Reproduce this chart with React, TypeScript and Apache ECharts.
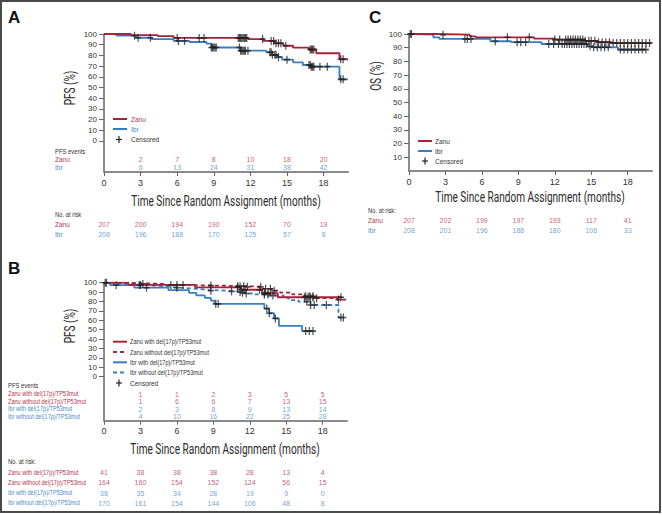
import React, { useEffect, useRef } from 'react';
import * as echarts from 'echarts';

const RED = '#a8223a';
const BLUE = '#3a7ec2';
const RED_T = '#b4354d';
const BLUE_T = '#4b8cc8';
const SMALL = '"Liberation Sans", Arial, sans-serif';

const xTicks = [0, 3, 6, 9, 12, 15, 18];
const eventMonths = [3, 6, 9, 12, 15, 18];
const yTicksPFS = [0, 10, 20, 30, 40, 50, 60, 70, 80, 90, 100];
const yTicksOS = [10, 20, 30, 40, 50, 60, 70, 80, 90, 100];
const xTitle = 'Time Since Random Assignment (months)';

// ---------- Panel A (PFS) ----------
const aZanuKM: [number, number][] = [[0, 100], [2.2, 99], [4.4, 98.1], [5.7, 96.3], [11.8, 95.3], [13.1, 93.5], [14.0, 91.3], [14.7, 89], [15.5, 87.2], [16.8, 85.5], [17.4, 82], [19.3, 76.4], [20, 76.4]];
const aIbrKM: [number, number][] = [[0, 100], [1.0, 98.4], [2.6, 96.5], [3.9, 95.3], [5.7, 93.5], [7.0, 92.5], [8.4, 91], [8.8, 87.4], [11.2, 84.4], [13.3, 82.9], [13.8, 80.5], [14.2, 78.5], [14.6, 76], [15.5, 73.5], [16.3, 71], [17.0, 69.5], [19.3, 57.6], [20, 57.6]];
const aZanuCens = [6.0, 7.8, 8.2, 11.0, 11.1, 11.2, 11.3, 11.4, 11.5, 11.6, 11.7, 13.0, 13.7, 13.9, 14.1, 14.3, 14.5, 14.9, 16.9, 17.0, 17.1, 17.2, 19.4, 19.6];
const aIbrCens = [2.5, 2.8, 3.8, 6.1, 6.6, 8.8, 8.9, 9.0, 9.1, 9.2, 11.1, 11.2, 11.3, 11.4, 11.5, 11.6, 11.8, 13.6, 13.7, 13.8, 14.0, 14.1, 14.3, 15.0, 16.8, 16.9, 17.0, 17.1, 17.2, 17.7, 18.3, 19.4, 19.6];
const aRowLabels = ['Zanu', 'Ibr'];
const aEventsZanu = [2, 7, 8, 10, 18, 20];
const aEventsIbr = [6, 13, 24, 31, 38, 42];
const aRiskZanu = [207, 200, 194, 190, 152, 70, 19];
const aRiskIbr = [208, 196, 188, 170, 125, 57, 8];

// ---------- Panel C (OS) ----------
const cZanuKM: [number, number][] = [[0, 100], [2.0, 99.5], [5.0, 98.3], [5.5, 97.6], [10.3, 96.6], [12.0, 95.9], [14.5, 95], [15.5, 94], [16.6, 93.4], [20, 93.4]];
const cIbrKM: [number, number][] = [[0, 100], [0.3, 99.5], [2.0, 97.6], [2.5, 96.4], [6.7, 94.7], [8.4, 94], [10.9, 92.7], [14.7, 91], [15.2, 90.3], [17.2, 88.6], [19.5, 88.6]];
const cZanuCens = [0.1, 2.8, 8.1, 9.9, 12.0, 12.4, 12.9, 13.1, 13.3, 13.5, 13.7, 13.9, 14.1, 14.3, 14.5, 14.8, 15.0, 15.3, 15.6, 15.9, 16.2, 16.5, 16.8, 17.1, 17.4, 17.7, 18.0, 18.3, 18.6, 18.9, 19.2, 19.5, 19.8];
const cIbrCens = [0.2, 4.6, 4.8, 5.1, 7.1, 8.9, 9.2, 9.6, 11.5, 11.9, 12.3, 12.6, 12.8, 13.0, 13.2, 13.4, 13.6, 13.8, 14.0, 14.2, 14.4, 14.6, 14.9, 15.2, 15.5, 15.8, 16.1, 16.4, 17.4, 17.7, 18.0, 18.3, 18.6, 18.9, 19.2, 19.5];
const cRowLabels = ['Zanu', 'Ibr'];
const cRiskZanu = [207, 202, 199, 197, 193, 117, 41];
const cRiskIbr = [208, 201, 196, 188, 180, 106, 33];

// ---------- Panel B (PFS by del(17p)/TP53mut) ----------
const bZanuWithKM: [number, number][] = [[0, 100], [2.0, 97.6], [7.5, 95.1], [11.3, 92.5], [13.0, 88.8], [14.3, 84.5], [19.6, 84.5]];
const bZanuWithoutKM: [number, number][] = [[0, 100], [1.5, 99.4], [3.0, 98.7], [5.0, 97.5], [6.5, 96.9], [9.5, 96.3], [11.8, 95.6], [13.0, 93.5], [13.8, 91.5], [14.5, 89.5], [15.5, 87.5], [16.5, 85.5], [17.5, 83.5], [19.2, 82], [20, 82]];
const bIbrWithKM: [number, number][] = [[0, 100], [0.5, 97.4], [2.5, 94.7], [5.3, 92.0], [7.0, 89.2], [7.6, 86.5], [8.3, 83.8], [8.8, 81], [9.1, 77.5], [13.2, 72.5], [13.6, 67.5], [14.0, 62], [14.4, 54], [16.3, 48.5], [17.2, 48.5]];
const bIbrWithoutKM: [number, number][] = [[0, 100], [0.8, 98.8], [2.0, 98.2], [2.8, 97.6], [3.5, 97], [4.3, 96.4], [4.8, 95.8], [5.3, 95.2], [5.8, 94.6], [6.5, 94], [7.0, 93.4], [7.6, 92.8], [8.2, 92.2], [8.8, 91.5], [10.0, 90.8], [10.8, 90.1], [11.3, 89.4], [11.7, 88.5], [12.3, 87.5], [13.6, 86.3], [14.8, 84], [15.2, 81.5], [16.0, 79.8], [17.0, 76.3], [19.3, 63], [19.6, 63]];
const bZanuWithCens = [2.9, 6.5, 11.0, 11.3, 11.6, 12.8, 13.2, 13.5, 16.5, 16.8, 17.0, 17.2, 19.5];
const bZanuWithoutCens = [0.1, 3.2, 5.5, 6.0, 8.8, 11.0, 11.2, 11.5, 11.8, 12.9, 13.3, 13.7, 14.0, 16.6, 16.9, 17.2, 17.5, 19.3];
const bIbrWithCens = [1.0, 3.5, 9.2, 9.4, 13.4, 13.6, 14.1, 16.6, 16.9, 17.2];
const bIbrWithoutCens = [0.2, 3.0, 6.0, 8.8, 10.5, 11.2, 11.4, 11.7, 13.2, 13.5, 13.9, 16.7, 17.0, 17.3, 18.3, 19.5, 19.7];
const bRowLabels = ['Zanu with del(17p)/TP53mut', 'Zanu without del(17p)/TP53mut', 'Ibr with del(17p)/TP53mut', 'Ibr without del(17p)/TP53mut'];
const bEvents = [
  [1, 1, 2, 3, 5, 5],
  [1, 6, 6, 7, 13, 15],
  [2, 3, 8, 9, 13, 14],
  [4, 10, 16, 22, 25, 28],
];
const bRisk = [
  [41, 38, 38, 38, 28, 13, 4],
  [164, 160, 154, 152, 124, 56, 15],
  [38, 35, 34, 28, 19, 9, 0],
  [170, 161, 154, 144, 106, 48, 8],
];

function stepAt(km: [number, number][], t: number) {
  let v = km[0][1];
  for (const [x, y] of km) {
    if (x <= t) v = y;
    else break;
  }
  return v;
}
const censPts = (km: [number, number][], times: number[]) => times.map((t) => [t, stepAt(km, t)]);

const PLUS = 'path://M4,0H6V4H10V6H6V10H4V6H0V4H4Z';

function kmLine(data: [number, number][], color: string, dashed: boolean, gi: number) {
  return {
    type: 'line', xAxisIndex: gi, yAxisIndex: gi, data, step: 'end', symbol: 'none',
    lineStyle: { color, width: 1.8, type: dashed ? [4, 3] : 'solid' }, z: 3, silent: true,
  };
}
function censSeries(pts: number[][], gi: number) {
  return {
    type: 'scatter', xAxisIndex: gi, yAxisIndex: gi, data: pts, symbol: PLUS, symbolSize: [6, 8],
    itemStyle: { color: '#222' }, z: 5, silent: true,
  };
}
function tableSeries(gi: number, rows: number[][], months: number[], colors: string[]) {
  return rows.map((row, r) => ({
    type: 'scatter', xAxisIndex: gi, yAxisIndex: gi, symbolSize: 0.1,
    itemStyle: { color: 'transparent' }, silent: true,
    data: row.map((v, i) => [months[i], r, v]),
    label: {
      show: true, position: 'inside', formatter: (p: any) => String(p.value[2]),
      fontSize: 7, color: colors[r], fontFamily: SMALL,
    },
  }));
}

function plotX(gi: number) {
  return {
    type: 'value', gridIndex: gi, min: 0, max: 20,
    axisLine: { show: true, onZero: false, lineStyle: { color: '#8a8a8a', width: 2 } },
    axisTick: { show: true, customValues: xTicks, length: 4, lineStyle: { color: '#666', width: 1 } },
    axisLabel: { customValues: xTicks, fontSize: 9, color: '#333', margin: 6, fontFamily: SMALL },
    splitLine: { show: false },
  };
}
function plotY(gi: number, min: number, ticks: number[]) {
  return {
    type: 'value', gridIndex: gi, min, max: 100,
    axisLine: { show: true, onZero: false, lineStyle: { color: '#666', width: 1.5 } },
    axisTick: { show: true, customValues: ticks, length: 5, lineStyle: { color: '#666', width: 1 } },
    axisLabel: { customValues: ticks, fontSize: 8, color: '#333', margin: 7, fontFamily: SMALL },
    splitLine: { show: false },
  };
}
function tblX(gi: number) {
  return { type: 'value', gridIndex: gi, min: 0, max: 20, show: false };
}
function tblY(gi: number, rows: number) {
  return { type: 'value', gridIndex: gi, min: 0, max: rows - 1, inverse: true, show: false };
}

function txt(text: string, x: number, y: number, fill: string, size = 7, sx = 1) {
  return {
    type: 'text', x, y, scaleX: sx, silent: true,
    style: { text, fill, font: `${size}px ${SMALL}`, align: 'left', verticalAlign: 'middle' },
  };
}
function bigTitle(text: string, x: number, y: number, rotate = false) {
  return {
    type: 'text', x, y, scaleX: 0.72, rotation: rotate ? Math.PI / 2 : 0, silent: true,
    style: { text, fill: '#2a2a2a', font: 'normal 400 14px Roboto, sans-serif', align: 'center', verticalAlign: 'middle' },
  };
}
function panelLetter(text: string, x: number, y: number) {
  return {
    type: 'text', x, y, silent: true,
    style: { text, fill: '#111', font: `bold 17px ${SMALL}`, align: 'left', verticalAlign: 'middle' },
  };
}
function legLine(x: number, y: number, color: string, dashed: boolean) {
  return {
    type: 'line', silent: true, shape: { x1: x, y1: y, x2: x + 14, y2: y },
    style: { stroke: color, lineWidth: 2, lineDash: dashed ? [4, 3] : null },
  };
}
function plusMark(x: number, y: number) {
  return [
    { type: 'line', silent: true, shape: { x1: x, y1: y - 3.5, x2: x, y2: y + 3.5 }, style: { stroke: '#222', lineWidth: 1.2 } },
    { type: 'line', silent: true, shape: { x1: x - 3, y1: y, x2: x + 3, y2: y }, style: { stroke: '#222', lineWidth: 1.2 } },
  ];
}

export default function App() {
  const ref = useRef<HTMLDivElement>(null);
  useEffect(() => {
    if (!ref.current) return;
    const chart = echarts.init(ref.current, null, { renderer: 'svg' });
    const grid = [
      { left: 104, top: 34, width: 244, height: 138 }, // 0 A plot
      { left: 104, top: 159, width: 244, height: 8.5 }, // 1 A events
      { left: 104, top: 224, width: 244, height: 10 }, // 2 A risk
      { left: 409, top: 34, width: 243, height: 137 }, // 3 C plot
      { left: 409, top: 220, width: 243, height: 10.5 }, // 4 C risk
      { left: 104, top: 282.7, width: 243, height: 138 }, // 5 B plot
      { left: 104, top: 394, width: 243, height: 22.5 }, // 6 B events
      { left: 104, top: 472.7, width: 243, height: 30.6 }, // 7 B risk
    ];
    const xAxis = [plotX(0), tblX(1), tblX(2), plotX(3), tblX(4), plotX(5), tblX(6), tblX(7)];
    const yAxis = [
      plotY(0, -29, yTicksPFS), tblY(1, 2), tblY(2, 2),
      plotY(3, 0, yTicksOS), tblY(4, 2),
      plotY(5, -46.8, yTicksPFS), tblY(6, 4), tblY(7, 4),
    ];
    const rb = [RED_T, BLUE_T];
    const rrbb = [RED_T, RED_T, BLUE_T, BLUE_T];
    const series: any[] = [
      kmLine(aIbrKM, BLUE, false, 0),
      kmLine(aZanuKM, RED, false, 0),
      censSeries([...censPts(aZanuKM, aZanuCens), ...censPts(aIbrKM, aIbrCens)], 0),
      ...tableSeries(1, [aEventsZanu, aEventsIbr], eventMonths, rb),
      ...tableSeries(2, [aRiskZanu, aRiskIbr], xTicks, rb),
      kmLine(cIbrKM, BLUE, false, 3),
      kmLine(cZanuKM, RED, false, 3),
      censSeries([...censPts(cZanuKM, cZanuCens), ...censPts(cIbrKM, cIbrCens)], 3),
      ...tableSeries(4, [cRiskZanu, cRiskIbr], xTicks, rb),
      kmLine(bIbrWithKM, BLUE, false, 5),
      kmLine(bIbrWithoutKM, BLUE, true, 5),
      kmLine(bZanuWithKM, RED, false, 5),
      kmLine(bZanuWithoutKM, RED, true, 5),
      censSeries([
        ...censPts(bZanuWithKM, bZanuWithCens), ...censPts(bZanuWithoutKM, bZanuWithoutCens),
        ...censPts(bIbrWithKM, bIbrWithCens), ...censPts(bIbrWithoutKM, bIbrWithoutCens),
      ], 5),
      ...tableSeries(6, bEvents, eventMonths, rrbb),
      ...tableSeries(7, bRisk, xTicks, rrbb),
    ];
    const graphic: any[] = [
      { type: 'rect', silent: true, shape: { x: 1, y: 1, width: 659, height: 511 }, style: { fill: 'none', stroke: '#4a4a4a', lineWidth: 2 } },
      panelLetter('A', 8, 17), panelLetter('C', 369, 17), panelLetter('B', 8, 268),
      bigTitle(xTitle, 226, 201), bigTitle(xTitle, 530, 197), bigTitle(xTitle, 225, 449),
      bigTitle('PFS (%)', 70, 88, true), bigTitle('OS (%)', 376, 76, true), bigTitle('PFS (%)', 70, 326, true),
      // A legend
      legLine(113, 119, RED, false), txt('Zanu', 131, 119, RED_T, 6.5),
      legLine(113, 129, BLUE, false), txt('Ibr', 131, 129, BLUE_T, 6.5),
      ...plusMark(119, 139.5), txt('Censored', 131, 139.5, '#333', 6.5),
      // A tables
      txt('PFS events', 55, 151, '#333', 6.5, 0.9),
      txt(aRowLabels[0], 55, 159, RED_T, 6.5), txt(aRowLabels[1], 55, 167.5, BLUE_T, 6.5),
      txt('No. at risk', 55, 214, '#333', 6.5, 0.9),
      txt(aRowLabels[0], 55, 224, RED_T, 6.5), txt(aRowLabels[1], 55, 234, BLUE_T, 6.5),
      // C legend
      legLine(418, 141, RED, false), txt('Zanu', 435, 141, '#333', 6.5),
      legLine(418, 151, BLUE, false), txt('Ibr', 435, 151, '#333', 6.5),
      ...plusMark(425, 161), txt('Censored', 435, 161, '#333', 6.5),
      // C table
      txt('No. at risk:', 368, 210, '#333', 6.5, 0.9),
      txt(cRowLabels[0], 368, 220, RED_T, 6.5), txt(cRowLabels[1], 368, 230.5, BLUE_T, 6.5),
      // B legend
      legLine(113, 341.7, RED, false), txt(bRowLabels[0], 130, 341.7, '#333', 6.5, 0.87),
      legLine(113, 352, RED, true), txt(bRowLabels[1], 130, 352, '#333', 6.5, 0.87),
      legLine(113, 362.3, BLUE, false), txt(bRowLabels[2], 130, 362.3, '#333', 6.5, 0.87),
      legLine(113, 372.6, BLUE, true), txt(bRowLabels[3], 130, 372.6, '#333', 6.5, 0.87),
      ...plusMark(119, 383), txt('Censored', 130, 383, '#333', 6.5),
      // B tables
      txt('PFS events', 8, 385.7, '#333', 6.5, 0.9),
      ...bRowLabels.map((l, i) => txt(l, 8, 394 + i * 7.5, rrbb[i], 6.5, 0.86)),
      txt('No. at risk:', 8, 461, '#333', 6.5, 0.9),
      ...bRowLabels.map((l, i) => txt(l, 8, 472.7 + i * 10.2, rrbb[i], 6.5, 0.86)),
    ];
    chart.setOption({
      animation: false,
      backgroundColor: '#fff',
      grid, xAxis, yAxis, series, graphic,
    });
    return () => chart.dispose();
  }, []);
  return (
    <div style={{ position: 'absolute', left: 0, top: 0, width: 662, height: 515, background: '#fff' }}>
      <div ref={ref} style={{ width: 662, height: 515 }} />
    </div>
  );
}
